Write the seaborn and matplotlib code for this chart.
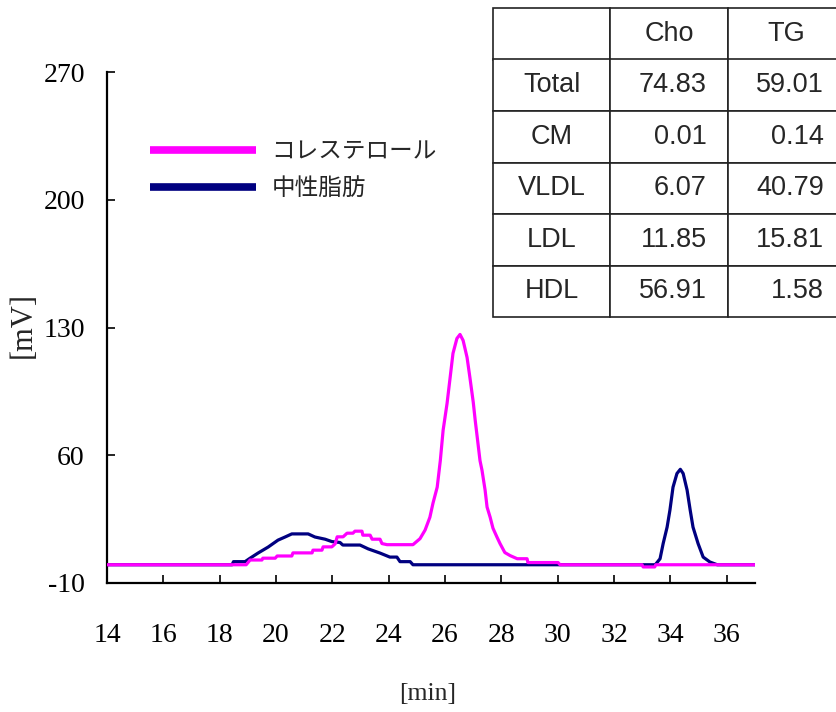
import matplotlib
matplotlib.use("Agg")
import matplotlib.pyplot as plt
import seaborn as sns
import pandas as pd
from matplotlib.table import Table
from matplotlib.lines import Line2D

# --- chromatogram data (retention time [min], detector signal [mV]) ---
cho_time = [14.0, 18.94, 19.08, 19.50, 19.53, 19.97, 20.04, 20.56, 20.60, 21.28,
            21.31, 21.63, 21.67, 21.98, 22.10, 22.17, 22.38, 22.52, 22.73, 22.80,
            23.05, 23.08, 23.34, 23.41, 23.69, 23.76, 23.94, 24.86, 25.11, 25.29,
            25.46, 25.57, 25.72, 25.83, 25.93, 26.07, 26.18, 26.28, 26.42, 26.53,
            26.64, 26.78, 26.88, 27.00, 27.07, 27.14, 27.24, 27.31, 27.42, 27.49,
            27.60, 27.70, 27.84, 27.95, 28.12, 28.31, 28.56, 28.91, 28.94, 30.01,
            30.08, 32.99, 33.03, 33.44, 33.48, 37.0]
cho_mv = [0.0, 0.0, 2.6, 2.6, 3.6, 3.6, 4.8, 4.8, 6.5, 6.5,
          8.0, 8.0, 9.8, 9.8, 11.5, 15.3, 15.3, 17.3, 17.3, 18.4,
          18.4, 16.2, 16.2, 14.0, 14.0, 11.6, 11.0, 11.0, 14.3, 19.0,
          26.0, 33.7, 42.5, 57.0, 73.7, 88.4, 102.7, 115.8, 124.0, 126.2,
          122.9, 113.6, 102.7, 89.0, 79.0, 70.0, 57.0, 51.8, 40.9, 31.6,
          26.0, 20.0, 15.2, 11.6, 6.7, 5.0, 3.3, 3.3, 1.2, 1.2,
          0.0, 0.0, -1.2, -1.2, 0.0, 0.0]

tg_time = [14.0, 18.44, 18.49, 18.90, 19.08, 19.36, 19.72, 20.07, 20.32, 20.56,
           21.14, 21.38, 21.74, 21.98, 22.27, 22.37, 22.98, 23.27, 23.69, 24.04,
           24.29, 24.40, 24.76, 24.86, 33.46, 33.63, 33.74, 33.88, 33.98, 34.09,
           34.23, 34.35, 34.45, 34.59, 34.70, 34.80, 34.98, 35.16, 35.40, 35.66,
           37.0]
tg_mv = [0.0, 0.0, 1.7, 1.7, 3.6, 6.4, 9.7, 13.5, 15.2, 16.9,
         16.9, 15.2, 14.0, 12.7, 12.2, 10.8, 10.8, 8.7, 6.4, 4.2,
         4.2, 1.7, 1.7, 0.0, 0.0, 3.3, 11.6, 20.6, 29.9, 42.5,
         50.0, 52.3, 50.0, 40.9, 29.9, 20.6, 11.6, 4.2, 1.5, 0.0,
         0.0]

series_names = ["コレステロール", "中性脂肪"]
series_colors = ["#FF00FF", "#000080"]

x_ticks = [14, 16, 18, 20, 22, 24, 26, 28, 30, 32, 34, 36]
y_ticks = [-10, 60, 130, 200, 270]

# --- lipoprotein table ---
table_cols = ["Cho", "TG"]
table_rows = ["Total", "CM", "VLDL", "LDL", "HDL"]
cho_values = ["74.83", "0.01", "6.07", "11.85", "56.91"]
tg_values = ["59.01", "0.14", "40.79", "15.81", "1.58"]

sns.set_theme(style="ticks")
plt.rcParams["font.family"] = ["Liberation Serif", "DejaVu Serif"]
plt.rcParams["axes.unicode_minus"] = False

fig = plt.figure(figsize=(8.37, 7.12), dpi=100)
ax = fig.add_axes([107 / 837, 1 - 583 / 712, 648 / 837, 511 / 712])

df_cho = pd.DataFrame({"time": cho_time, "mV": cho_mv})
df_tg = pd.DataFrame({"time": tg_time, "mV": tg_mv})

sns.lineplot(data=df_tg, x="time", y="mV", color=series_colors[1], lw=2.3,
             estimator=None, sort=False, ax=ax, zorder=2)
sns.lineplot(data=df_cho, x="time", y="mV", color=series_colors[0], lw=2.3,
             estimator=None, sort=False, ax=ax, zorder=3)

ax.set_xlim(14, 37)
ax.set_ylim(-10, 270)
ax.set_xticks(x_ticks)
ax.set_yticks(y_ticks)
ax.set_xticklabels([str(t) for t in x_ticks])
ax.set_yticklabels([str(t) for t in y_ticks])

for side in ["top", "right"]:
    ax.spines[side].set_visible(False)
for side in ["left", "bottom"]:
    ax.spines[side].set_linewidth(1.6)
    ax.spines[side].set_color("black")

ax.tick_params(axis="both", direction="in", length=6, width=1.2, colors="black",
               labelsize=20)
ax.tick_params(axis="x", pad=29)
ax.tick_params(axis="y", pad=16)

ax.set_xlabel("[min]", fontsize=18.5)
ax.set_ylabel("[mV]", fontsize=22)
ax.xaxis.set_label_coords(0.495, -0.217)
ax.yaxis.set_label_coords(-0.13, 0.505)
ax.xaxis.label.set_verticalalignment("center")
ax.yaxis.label.set_verticalalignment("center")

# legend
handles = [Line2D([], [], color=c, lw=5.5, solid_capstyle="butt") for c in series_colors]
leg = ax.legend(handles, series_names, loc="upper left",
                bbox_to_anchor=((150 - 107) / 648, (583 - 140) / 511),
                frameon=False, borderpad=0, borderaxespad=0,
                handlelength=4.5, handletextpad=0.65, labelspacing=0.6,
                prop={"family": ["Noto Sans CJK JP", "DejaVu Sans"], "size": 17})

# table overlaid at the upper right
tbl = Table(ax, bbox=[(493 - 107) / 648, (583 - 317) / 511,
                      (845 - 493) / 648, (317 - 8) / 511])
cells = [["", table_cols[0], table_cols[1]]]
for name, c, t in zip(table_rows, cho_values, tg_values):
    cells.append([name, c, t])
for r, row in enumerate(cells):
    for c, txt in enumerate(row):
        loc = "right" if (r > 0 and c > 0) else "center"
        cell = tbl.add_cell(r, c, width=1, height=1, text=txt, loc=loc,
                            facecolor="white", edgecolor="#222222")
        cell.set_linewidth(1.2)
        if loc == "right":
            cell.PAD = 0.18
        cell.get_text().set_fontfamily(["Liberation Sans", "DejaVu Sans"])
tbl.auto_set_font_size(False)
tbl.set_fontsize(19.5)
tbl.set_zorder(5)
tbl.set_clip_on(False)
ax.add_table(tbl)

fig.savefig("out.png", dpi=100, facecolor="white")
